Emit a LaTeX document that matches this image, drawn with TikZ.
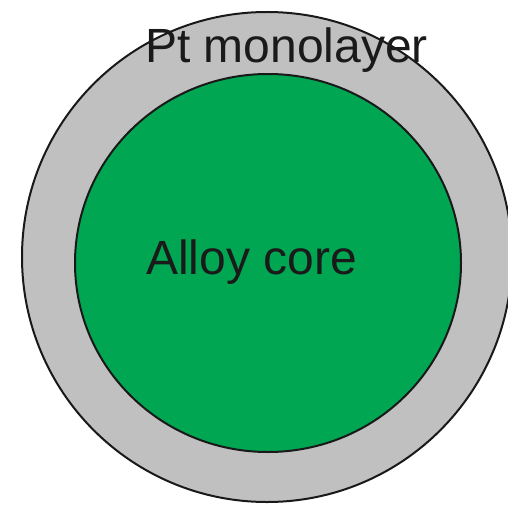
\documentclass[tikz,border=0pt]{standalone}
\usepackage{fontspec}
\setmainfont{Liberation Sans}
\definecolor{shellgray}{RGB}{192,192,192}
\definecolor{coregreen}{RGB}{0,166,81}
\definecolor{txt}{RGB}{26,26,26}
\begin{document}
\begin{tikzpicture}[x=1pt,y=-1pt,
  outline/.style={draw=black!90,line width=2pt},
  lbl/.style={anchor=base west,inner sep=0pt,text=txt,font=\fontsize{48}{52}\selectfont}]
\useasboundingbox (0,0) rectangle (508,505);
\clip (0,0) rectangle (508,505);
\filldraw[outline,fill=shellgray] (267,257) ellipse [x radius=245,y radius=245];
\filldraw[outline,fill=coregreen] (268,263) ellipse [x radius=193,y radius=189];
\node[lbl] (shell) at (145,63) {Pt monolayer};
\node[lbl] (core) at (146,274) {Alloy core};
\end{tikzpicture}
\end{document}
